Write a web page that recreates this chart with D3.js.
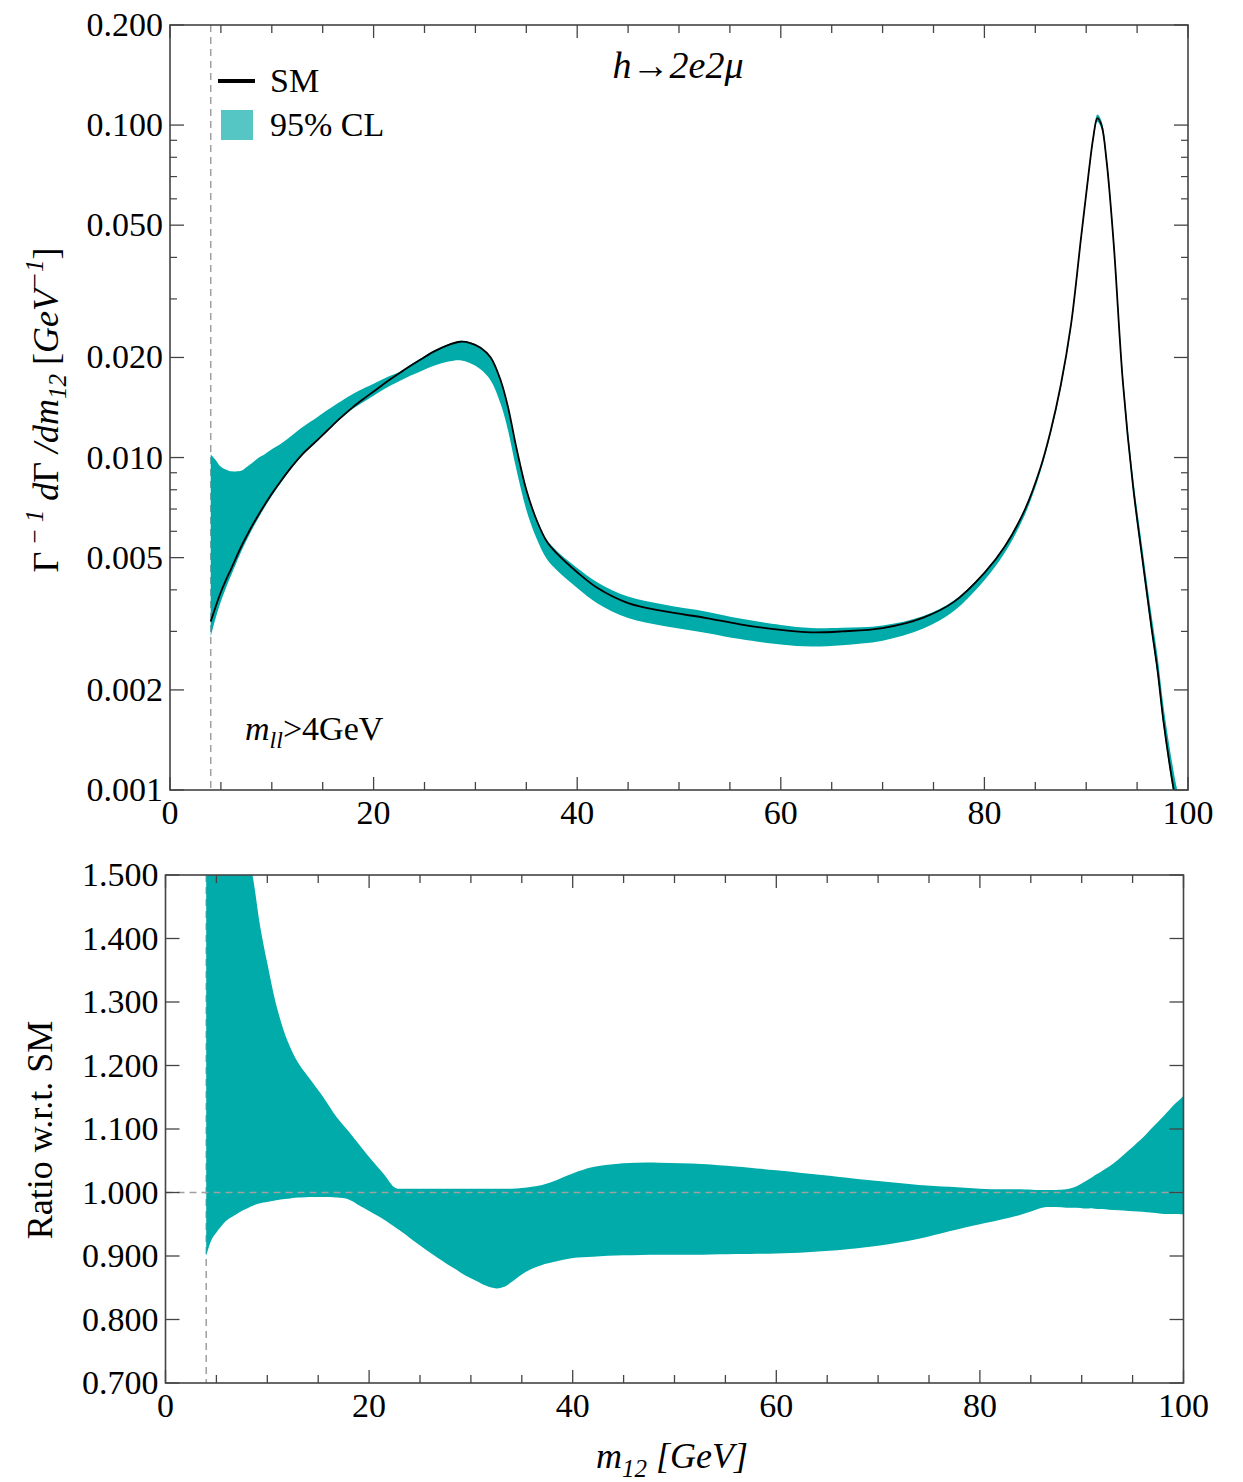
<!DOCTYPE html>
<html>
<head>
<meta charset="utf-8">
<script src="https://cdn.jsdelivr.net/npm/d3@7"></script>
<style>
  body { margin: 0; background: #fff; }
  text { font-family: "Liberation Serif", "DejaVu Serif", serif; fill: #000; }
</style>
</head>
<body>
<script>
"use strict";
// m12 grid [GeV]
var mass = [4, 4.5, 5, 5.7, 6, 7, 7.6, 8, 8.7, 9.3, 10, 11, 12, 13, 14.5, 15.5, 16.8, 18, 19, 20,
  21.4, 22.6, 23.4, 24.7, 26, 27.5, 28.5, 29.5, 30.5, 31.5, 32.5, 33.2, 34, 35, 36, 37, 38, 40, 42, 45,
  48.5, 52.7, 56, 60, 63, 66, 70, 74, 77, 80, 82, 84, 85.5, 86.5, 87.5, 88.5, 89.5, 90.2, 90.7, 91.1,
  91.5, 92, 92.7, 93.6, 94.6, 95.5, 96.4, 97, 97.6, 98.6, 99.2, 100];
// SM normalised distribution [GeV^-1]
var smValues = [0.00321, 0.00357, 0.00394, 0.00442, 0.00462, 0.00540, 0.00586, 0.00618, 0.00673, 0.00721,
  0.00778, 0.00859, 0.00942, 0.01023, 0.0113, 0.0121, 0.0132, 0.0142, 0.0150, 0.0158,
  0.0170, 0.0180, 0.0187, 0.0198, 0.0209, 0.0219, 0.0223, 0.0221, 0.0214, 0.0200,
  0.0170, 0.0142, 0.0108, 0.0080, 0.0065, 0.0056, 0.00515, 0.00452, 0.00405, 0.00365,
  0.00345, 0.00329, 0.00315, 0.00303, 0.00298, 0.00300, 0.00307, 0.00330, 0.00368, 0.0045,
  0.0054, 0.0070, 0.0093, 0.0120, 0.0165, 0.0250, 0.046, 0.070, 0.092, 0.105,
  0.100, 0.078, 0.044, 0.0169, 0.0082, 0.0050, 0.0031, 0.0023, 0.0016, 0.00100, 0.00080, 0.00058];
// 95% CL band as ratio to SM
var ratioHigh = [3.18, 2.75, 2.38, 2.07, 1.97, 1.69, 1.604, 1.552, 1.485, 1.419,
  1.361, 1.288, 1.238, 1.205, 1.172, 1.150, 1.119, 1.096, 1.076, 1.056,
  1.030, 1.007, 1.006, 1.006, 1.006, 1.006, 1.006, 1.006, 1.006, 1.006,
  1.006, 1.006, 1.006, 1.007, 1.009, 1.012, 1.017, 1.030, 1.040, 1.046,
  1.047, 1.045, 1.041, 1.035, 1.030, 1.025, 1.018, 1.012, 1.009, 1.006,
  1.005, 1.005, 1.004, 1.004, 1.004, 1.005, 1.010, 1.016, 1.021, 1.025,
  1.029, 1.034, 1.041, 1.052, 1.066, 1.079, 1.093, 1.103, 1.113, 1.130, 1.140, 1.152];
var ratioLow = [0.900, 0.925, 0.937, 0.951, 0.956, 0.966, 0.972, 0.975, 0.980, 0.983,
  0.985, 0.988, 0.990, 0.992, 0.993, 0.993, 0.992, 0.989, 0.980, 0.971,
  0.958, 0.945, 0.936, 0.920, 0.905, 0.889, 0.879, 0.869, 0.861, 0.853,
  0.849, 0.851, 0.859, 0.871, 0.880, 0.886, 0.890, 0.897, 0.899, 0.901,
  0.902, 0.902, 0.903, 0.904, 0.906, 0.909, 0.916, 0.927, 0.939, 0.950,
  0.957, 0.965, 0.973, 0.977, 0.977, 0.976, 0.976, 0.975, 0.975, 0.975,
  0.974, 0.974, 0.973, 0.972, 0.971, 0.970, 0.969, 0.968, 0.967, 0.966, 0.966, 0.965];
var topYTicks = [0.001, 0.002, 0.005, 0.01, 0.02, 0.05, 0.1, 0.2];
var topYLabels = ["0.001", "0.002", "0.005", "0.010", "0.020", "0.050", "0.100", "0.200"];
var topYMinor = [0.003, 0.004, 0.006, 0.007, 0.008, 0.009, 0.03, 0.04, 0.06, 0.07, 0.08, 0.09];
var ratioYTicks = [0.7, 0.8, 0.9, 1.0, 1.1, 1.2, 1.3, 1.4, 1.5];
var xTicks = [0, 20, 40, 60, 80, 100];
var mllCut = 4;

var bandColor = "#00abaa",
    legendBand = "#55c6c3",
    frameColor = "#444",
    dashColor = "#a0a0a0";

var data = mass.map(function(m, i) {
  return {m: m, sm: smValues[i], lo: ratioLow[i], hi: ratioHigh[i]};
});
var smooth = d3.curveCatmullRom.alpha(0.5);

var svg = d3.select("body").append("svg")
  .attr("width", 1243).attr("height", 1482);

function frame(g, x, y, opts) {
  var x0 = x.range()[0], x1 = x.range()[1], y0 = y.range()[0], y1 = y.range()[1];
  // x ticks every 5 GeV, bottom and top
  d3.range(0, 101, 5).forEach(function(v) {
    var len = v % 20 === 0 ? 13 : 8;
    g.append("line").attr("x1", x(v)).attr("x2", x(v)).attr("y1", y0).attr("y2", y0 - len)
      .attr("stroke", frameColor).attr("stroke-width", 1.3);
    g.append("line").attr("x1", x(v)).attr("x2", x(v)).attr("y1", y1).attr("y2", y1 + len)
      .attr("stroke", frameColor).attr("stroke-width", 1.3);
  });
  opts.major.forEach(function(v) {
    g.append("line").attr("x1", x0).attr("x2", x0 + 14).attr("y1", y(v)).attr("y2", y(v))
      .attr("stroke", frameColor).attr("stroke-width", 1.3);
    g.append("line").attr("x1", x1).attr("x2", x1 - 14).attr("y1", y(v)).attr("y2", y(v))
      .attr("stroke", frameColor).attr("stroke-width", 1.3);
  });
  (opts.minor || []).forEach(function(v) {
    g.append("line").attr("x1", x0).attr("x2", x0 + 7).attr("y1", y(v)).attr("y2", y(v))
      .attr("stroke", frameColor).attr("stroke-width", 1.2);
    g.append("line").attr("x1", x1).attr("x2", x1 - 7).attr("y1", y(v)).attr("y2", y(v))
      .attr("stroke", frameColor).attr("stroke-width", 1.2);
  });
  g.append("rect").attr("x", x0).attr("y", y1).attr("width", x1 - x0).attr("height", y0 - y1)
    .attr("fill", "none").attr("stroke", frameColor).attr("stroke-width", 1.6);
  // tick labels
  xTicks.forEach(function(v) {
    g.append("text").attr("x", x(v)).attr("y", y0 + 34).attr("text-anchor", "middle")
      .style("font-size", "34px").text(v);
  });
  opts.major.forEach(function(v, i) {
    g.append("text").attr("x", x0 - 7).attr("y", y(v) + 11).attr("text-anchor", "end")
      .style("font-size", "34px").text(opts.labels[i]);
  });
}

// ---------- top panel ----------
var xTop = d3.scaleLinear().domain([0, 100]).range([170, 1188]);
var yTop = d3.scaleLog().domain([0.001, 0.2]).range([790, 25]);
var topPanel = svg.append("g");
topPanel.append("clipPath").attr("id", "clipTop").append("rect")
  .attr("x", 170).attr("y", 25).attr("width", 1018).attr("height", 765);

topPanel.append("line").attr("x1", xTop(mllCut)).attr("x2", xTop(mllCut)).attr("y1", 25).attr("y2", 790)
  .attr("stroke", dashColor).attr("stroke-width", 1.5).attr("stroke-dasharray", "7,5");

var plotTop = topPanel.append("g").attr("clip-path", "url(#clipTop)");
plotTop.append("path").datum(data)
  .attr("fill", bandColor)
  .attr("d", d3.area().curve(smooth)
    .x(function(d) { return xTop(d.m); })
    .y0(function(d) { return yTop(d.sm * d.lo); })
    .y1(function(d) { return yTop(d.sm * d.hi); }));
plotTop.append("path").datum(data)
  .attr("fill", "none").attr("stroke", "#000").attr("stroke-width", 1.8)
  .attr("d", d3.line().curve(smooth)
    .x(function(d) { return xTop(d.m); })
    .y(function(d) { return yTop(d.sm); }));

frame(topPanel, xTop, yTop, {major: topYTicks, minor: topYMinor, labels: topYLabels});

// legend
topPanel.append("line").attr("x1", 218).attr("x2", 255).attr("y1", 81).attr("y2", 81)
  .attr("stroke", "#000").attr("stroke-width", 4);
topPanel.append("text").attr("x", 270).attr("y", 92).style("font-size", "34px").text("SM");
topPanel.append("rect").attr("x", 221).attr("y", 110).attr("width", 32).attr("height", 30)
  .attr("fill", legendBand);
topPanel.append("text").attr("x", 270).attr("y", 136).style("font-size", "34px").text("95% CL");

// title
topPanel.append("text").attr("x", 678).attr("y", 78).attr("text-anchor", "middle")
  .style("font-size", "38px").style("font-style", "italic").text("h\u21922e2\u03bc");

// cut label
var cut = topPanel.append("text").attr("x", 245).attr("y", 740).style("font-size", "34px");
cut.append("tspan").style("font-style", "italic").text("m");
cut.append("tspan").style("font-style", "italic").style("font-size", "24px").attr("dy", 8).text("ll");
cut.append("tspan").attr("dy", -8).text(">4GeV");

// y label
var yl = topPanel.append("text").attr("transform", "translate(58,410) rotate(-90)")
  .attr("text-anchor", "middle").style("font-size", "36px");
yl.append("tspan").text("\u0393");
yl.append("tspan").style("font-style", "italic").style("font-size", "25px").attr("dy", -15).text(" \u2212 1");
yl.append("tspan").style("font-style", "italic").attr("dy", 15).text(" d");
yl.append("tspan").text("\u0393");
yl.append("tspan").style("font-style", "italic").text(" /dm");
yl.append("tspan").style("font-style", "italic").style("font-size", "25px").attr("dy", 8).text("12");
yl.append("tspan").attr("dy", -8).text("  [");
yl.append("tspan").style("font-style", "italic").text("GeV");
yl.append("tspan").style("font-style", "italic").style("font-size", "25px").attr("dy", -15).text("\u22121");
yl.append("tspan").attr("dy", 15).text("]");

// ---------- bottom panel ----------
var xBot = d3.scaleLinear().domain([0, 100]).range([165.5, 1183.5]);
var yBot = d3.scaleLinear().domain([0.7, 1.5]).range([1383, 875]);
var botPanel = svg.append("g");
botPanel.append("clipPath").attr("id", "clipBot").append("rect")
  .attr("x", 165.5).attr("y", 875).attr("width", 1018).attr("height", 508);

botPanel.append("line").attr("x1", xBot(mllCut)).attr("x2", xBot(mllCut)).attr("y1", 875).attr("y2", 1383)
  .attr("stroke", dashColor).attr("stroke-width", 1.5).attr("stroke-dasharray", "7,5");

var plotBot = botPanel.append("g").attr("clip-path", "url(#clipBot)");
plotBot.append("path").datum(data)
  .attr("fill", bandColor)
  .attr("d", d3.area().curve(smooth)
    .x(function(d) { return xBot(d.m); })
    .y0(function(d) { return yBot(d.lo); })
    .y1(function(d) { return yBot(d.hi); }));
plotBot.append("line").attr("x1", xBot(0)).attr("x2", xBot(100)).attr("y1", yBot(1)).attr("y2", yBot(1))
  .attr("stroke", dashColor).attr("stroke-width", 1.5).attr("stroke-dasharray", "7,5");

frame(botPanel, xBot, yBot, {major: ratioYTicks, minor: [], labels: ratioYTicks.map(d3.format(".3f"))});

botPanel.append("text").attr("transform", "translate(52,1130) rotate(-90)")
  .attr("text-anchor", "middle").style("font-size", "36px").text("Ratio w.r.t. SM");

var xl = botPanel.append("text").attr("x", 672).attr("y", 1468).attr("text-anchor", "middle")
  .style("font-size", "36px").style("font-style", "italic");
xl.append("tspan").text("m");
xl.append("tspan").style("font-size", "25px").attr("dy", 9).text("12");
xl.append("tspan").attr("dy", -9).text(" [GeV]");
</script>
</body>
</html>
